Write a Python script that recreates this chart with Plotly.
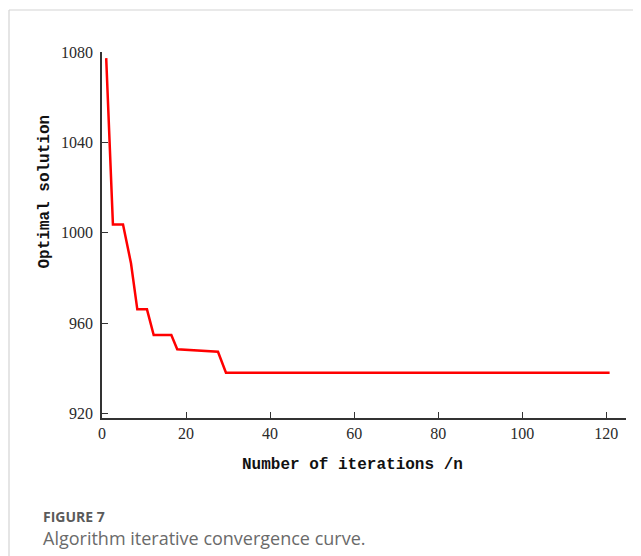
import plotly.graph_objects as go

iterations = [1, 2.6, 5.0, 6.9, 8.4, 10.7, 12.3, 16.5, 17.9, 27.6, 29.5, 120.8]
optimal = [1077.3, 1003.7, 1003.7, 986.5, 966.1, 966.1, 954.7, 954.7, 948.4, 947.3, 938.0, 938.0]

x_ticks = [0, 20, 40, 60, 80, 100, 120]
y_ticks = [920, 960, 1000, 1040, 1080]

# page is 641x556; the html body adds an 8px margin, so the figure is offset
OFF = 8
PAGE_W, PAGE_H = 641, 556
W, H = PAGE_W - OFF, PAGE_H - OFF
AX_L, AX_R, AX_T, AX_B = 102, 626, 52, 418  # plot area in page pixels
L, T = AX_L - OFF, AX_T - OFF
R = PAGE_W - AX_R
B = PAGE_H - AX_B
pw = AX_R - AX_L
ph = AX_B - AX_T


def px(x):
    return (x - AX_L) / pw


def py(y):
    return (AX_B - y) / ph


fig = go.Figure()
fig.add_trace(go.Scatter(
    x=iterations, y=optimal, mode="lines",
    line=dict(color="#ff0000", width=2.5),
    showlegend=False, hoverinfo="skip"))

tick_font = dict(family="Liberation Serif, DejaVu Serif, serif", size=16, color="#2a2a2a")

fig.update_layout(
    width=W, height=H,
    margin=dict(l=L, r=R, t=T, b=B),
    paper_bgcolor="white", plot_bgcolor="white",
    xaxis=dict(range=[0, 124.7], tickvals=x_ticks, ticktext=[str(v) for v in x_ticks],
               ticks="inside", ticklen=6, tickwidth=1.3, tickcolor="#333",
               showline=True, linecolor="#333", linewidth=1.5,
               showgrid=False, zeroline=False, tickfont=tick_font),
    yaxis=dict(range=[918, 1080], tickvals=y_ticks, ticktext=[str(v) for v in y_ticks],
               ticks="inside", ticklen=6, tickwidth=1.3, tickcolor="#333",
               showline=True, linecolor="#333", linewidth=1.5, ticklabelstandoff=4,
               showgrid=False, zeroline=False, tickfont=tick_font),
    font=dict(family="Liberation Serif"),
)

title_font = dict(family="Liberation Mono, DejaVu Sans Mono, monospace", size=16, color="#111")

fig.add_annotation(text="<b>Optimal solution</b>", textangle=-90,
                   x=px(44), y=py(191.5), xref="paper", yref="paper",
                   showarrow=False, font=title_font, xanchor="center", yanchor="middle")
fig.add_annotation(text="<b>Number of iterations /n</b>",
                   x=px(352.5), y=py(465), xref="paper", yref="paper",
                   showarrow=False, font=title_font, xanchor="center", yanchor="middle")

fig.add_annotation(text="<b>FIGURE 7</b>", x=px(41), y=py(516), xref="paper", yref="paper",
                   showarrow=False, xanchor="left", yanchor="middle",
                   font=dict(family="Open Sans, Noto Sans, sans-serif", size=14, color="#5a5a5a"))
fig.add_annotation(text="Algorithm iterative convergence curve.", x=px(41), y=py(538),
                   xref="paper", yref="paper", showarrow=False, xanchor="left", yanchor="middle",
                   font=dict(family="Open Sans, Noto Sans, sans-serif", size=18, color="#6a6a6a"))

# light frame around the figure panel
fig.add_shape(type="line", xref="paper", yref="paper",
              x0=px(9), x1=px(9), y0=py(10), y1=py(PAGE_H + 5),
              line=dict(color="#d4d4d4", width=1.2))
fig.add_shape(type="line", xref="paper", yref="paper",
              x0=px(9), x1=px(PAGE_W + 5), y0=py(10), y1=py(10),
              line=dict(color="#d4d4d4", width=1.2))

fig.write_html("out.html")
